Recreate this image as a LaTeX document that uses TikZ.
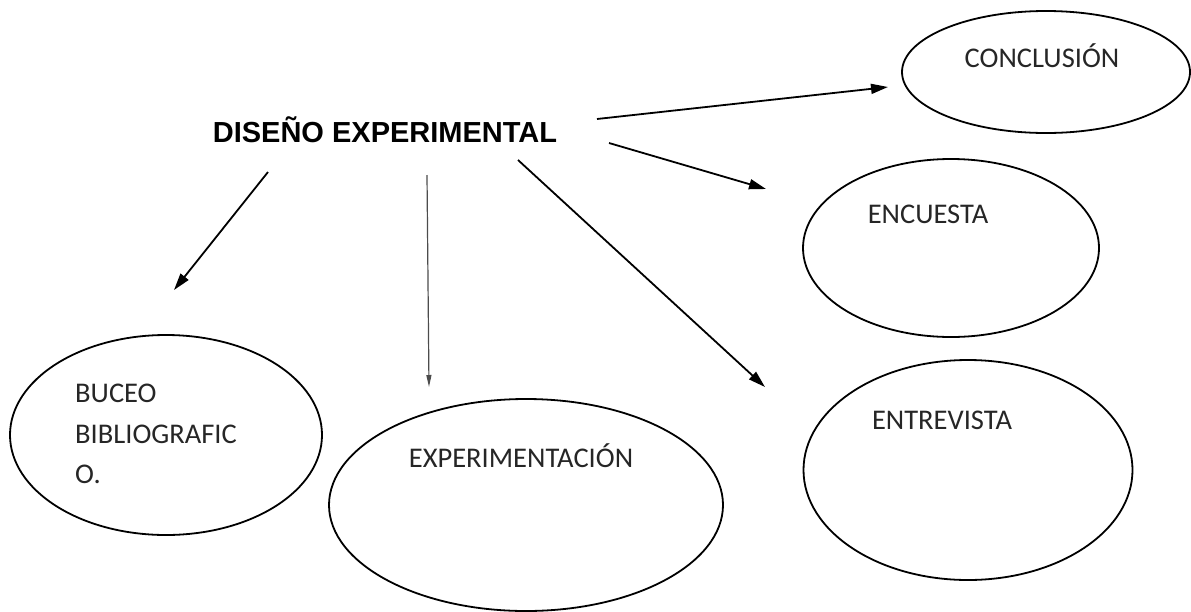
\documentclass[tikz,border=0pt]{standalone}
\usepackage{fontspec}
\setmainfont{Carlito}
\newfontfamily\headfont{Liberation Sans}
\usetikzlibrary{shapes.geometric,arrows.meta,positioning}

\tikzset{
  oval/.style={ellipse, draw, line width=1.8pt, inner sep=0pt},
  lbl/.style={inner sep=0pt, text=black!85, font=\fontsize{28.5}{40.5}\selectfont},
  head/.style={inner sep=0pt, font=\headfont\bfseries\fontsize{29}{34}\selectfont},
  link/.style={-{Triangle[length=17pt,width=10pt]}, line width=1.8pt},
  thinlink/.style={-{Triangle[length=12pt,width=5pt]}, line width=1.2pt, black!70}
}

\begin{document}
\begin{tikzpicture}[x=1pt,y=-1pt]
  \useasboundingbox (0,0) rectangle (1191,611);

  % Define nodes
  \node[head, anchor=base]                                  (diseno) at (385,142) {DISEÑO EXPERIMENTAL};
  \node[oval, minimum width=288pt, minimum height=122pt]    (concl)  at (1046,72) {};
  \node[oval, minimum width=296pt, minimum height=178pt]    (encu)   at (951,248) {};
  \node[oval, minimum width=329pt, minimum height=220pt]    (entre)  at (968,470) {};
  \node[oval, minimum width=394pt, minimum height=212pt]    (exper)  at (526,505) {};
  \node[oval, minimum width=312pt, minimum height=200pt]    (buceo)  at (166,435) {};

  \node[lbl, anchor=base, xshift=-4pt,  yshift=5pt]         (conclT) at (concl.center) {CONCLUSIÓN};
  \node[lbl, anchor=base, xshift=-23pt, yshift=25pt]        (encuT)  at (encu.center)  {ENCUESTA};
  \node[lbl, anchor=base, xshift=-26pt, yshift=41pt]        (entreT) at (entre.center) {ENTREVISTA};
  \node[lbl, anchor=base, xshift=-5pt,  yshift=38pt]        (experT) at (exper.center) {EXPERIMENTACIÓN};
  \node[lbl, anchor=north west, align=left, xshift=-91pt, yshift=51pt] (buceoT) at (buceo.center)
    {BUCEO\\BIBLIOGRAFIC\\O.};

  % Arrow ends
  \coordinate (s1) at (597,119);  \coordinate (t1) at (888,87);
  \coordinate (s2) at (609,143);  \coordinate (t2) at (766,189);
  \coordinate (s3) at (518,160);  \coordinate (t3) at (765,387);
  \coordinate (s4) at (427,175);  \coordinate (t4) at (429,387);
  \coordinate (s5) at (268,172);  \coordinate (t5) at (174,290);

  % Connect the nodes
  \draw[link]     (s1) -- (t1);
  \draw[link]     (s2) -- (t2);
  \draw[link]     (s3) -- (t3);
  \draw[thinlink] (s4) -- (t4);
  \draw[link]     (s5) -- (t5);
\end{tikzpicture}
\end{document}
